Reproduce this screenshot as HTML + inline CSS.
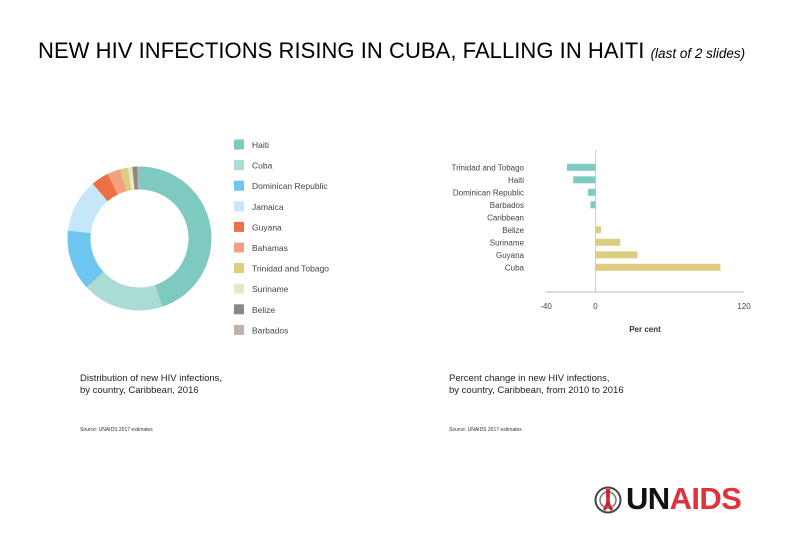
<!DOCTYPE html>
<html><head><meta charset="utf-8"><style>
body{margin:0;width:810px;height:540px;background:#fff;overflow:hidden;position:relative;font-family:"Liberation Sans",sans-serif}
.t{position:absolute;white-space:nowrap}
</style></head><body>
<div class="t" style="left:38px;top:38px;font-size:22px;color:#000;letter-spacing:0.05px">NEW HIV INFECTIONS RISING IN CUBA, FALLING IN HAITI <span style="font-size:13.5px;font-style:italic;letter-spacing:0">(last of 2 slides)</span></div>
<svg id="donut" width="810" height="540" style="position:absolute;left:0;top:0"></svg>
<div class="t" style="left:80px;top:373px;font-size:9.5px;line-height:12px;color:#222">Distribution of new HIV infections,<br>by country, Caribbean, 2016</div>
<div class="t" style="left:80px;top:427px;font-size:5px;color:#333">Source: UNAIDS 2017 estimates</div>
<div class="t" style="left:449px;top:373px;font-size:9.5px;line-height:12px;color:#222">Percent change in new HIV infections,<br>by country, Caribbean, from 2010 to 2016</div>
<div class="t" style="left:449px;top:427px;font-size:5px;color:#333">Source: UNAIDS 2017 estimates</div>
<div style="position:absolute;left:592px;top:485px;width:160px;height:30px">
<svg width="34" height="30"><circle cx="16" cy="15" r="12.5" fill="none" stroke="#444" stroke-width="2"/><circle cx="16" cy="15" r="8" fill="none" stroke="#777" stroke-width="1.5"/><path d="M14 5 C20 7 12 15 20 25 M18 5 C12 7 20 15 12 25" stroke="#d0202a" stroke-width="3" fill="none"/></svg>
<div class="t" style="left:34px;top:-4px;font-size:31px;font-weight:bold;letter-spacing:-0.6px"><span style="color:#111">UN</span><span style="color:#e0323c">AIDS</span></div>
</div>
<script>
const countries=["Haiti","Cuba","Dominican Republic","Jamaica","Guyana","Bahamas","Trinidad and Tobago","Suriname","Belize","Barbados"];
const shares=[45,18.3,13.7,12,4,3,1.7,1,1.1,0.5];
const colors=["#7fcac0","#aadbd4","#6ec6f0","#c6e6fa","#ee6f46","#f4a07e","#dccd80","#ede6c4","#888888","#bdb3ab"];
const barCats=["Trinidad and Tobago","Haiti","Dominican Republic","Barbados","Caribbean","Belize","Suriname","Guyana","Cuba"];
const barVals=[-23,-18,-6,-4,0.4,4.5,20,34,101];
const ticks=[-40,0,120];
const NS="http://www.w3.org/2000/svg";
const svg=document.getElementById('donut');
function mk(t,a){const e=document.createElementNS(NS,t);for(const k in a)e.setAttribute(k,a[k]);svg.appendChild(e);return e;}
const cx=139.5,cy=238.5,R=72,r=49;
const tot=shares.reduce((a,b)=>a+b,0);
let acc=0;
function pt(a,rad){return [cx+rad*Math.sin(a),cy-rad*Math.cos(a)];}
shares.forEach((v,i)=>{
 const a0=acc/tot*2*Math.PI;acc+=v;const a1=acc/tot*2*Math.PI;
 const L=(a1-a0)>Math.PI?1:0;
 const [x0,y0]=pt(a0,R),[x1,y1]=pt(a1,R),[x2,y2]=pt(a1,r),[x3,y3]=pt(a0,r);
 const p=mk('path',{d:`M${x0},${y0}A${R},${R} 0 ${L} 1 ${x1},${y1}L${x2},${y2}A${r},${r} 0 ${L} 0 ${x3},${y3}Z`,fill:colors[i]});
 
 
 const sq=mk('rect',{x:234,y:139.5+i*20.6,width:10,height:10,fill:colors[i]});
 
 
 const t=mk('text',{x:252,y:148+i*20.6,'font-size':8.5,fill:'#444'});t.textContent=countries[i];
 
 
});
const x0v=595.5,ppu=198/160;
const X=v=>x0v+v*ppu;
const Y=i=>167.3+i*12.5;
const zl=mk('line',{x1:X(0),x2:X(0),y1:150,y2:292,stroke:'#ccc','stroke-width':1});


barCats.forEach((c,i)=>{
 const v=barVals[i];
 const b=mk('rect',{x:Math.min(X(0),X(v)),y:Y(i)-3.5,width:Math.max(Math.abs(X(v)-X(0)),0.6),height:7,fill:v<0?'#7fcac0':'#dccd80'});
 
 
 const t=mk('text',{x:524,y:Y(i)+3,'font-size':8,fill:'#444','text-anchor':'end'});t.textContent=c;
 
 
});
const ax=mk('line',{x1:X(-40),x2:X(120),y1:292,y2:292,stroke:'#bbb','stroke-width':1});


ticks.forEach(v=>{
 const t=mk('text',{x:X(v),y:309,'font-size':8,fill:'#444','text-anchor':'middle'});t.textContent=v;
 
 
});
const xt=mk('text',{x:645,y:332,'font-size':8,'font-weight':'bold',fill:'#333','text-anchor':'middle'});xt.textContent='Per cent';


</script>
</body></html>
